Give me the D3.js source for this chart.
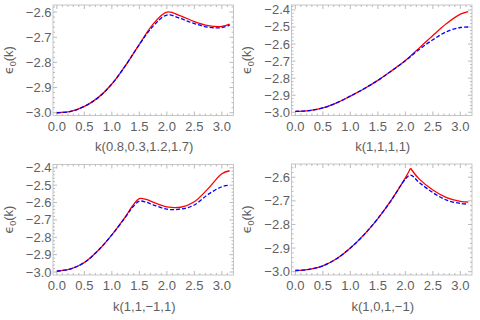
<!DOCTYPE html>
<html><head><meta charset="utf-8">
<script src="https://cdn.jsdelivr.net/npm/d3@7"></script>
<style>
html,body{margin:0;padding:0;background:#fff;}
svg{display:block;font-family:"Liberation Sans","DejaVu Sans",sans-serif;}
</style></head>
<body>
<svg id="chart" width="480" height="320"></svg>
<script>
// ---- data ----
const PI = Math.PI;
const xTicks = [0, 0.5, 1.0, 1.5, 2.0, 2.5, 3.0];
const xTickLabels = ["0.0","0.5","1.0","1.5","2.0","2.5","3.0"];

const p1Title = "k(0.8,0.3,1.2,1.7)";
const p1K    = [0, 0.25, 0.5, 0.75, 1.0, 1.25, 1.5, 1.75, 2.0, 2.25, 2.5, 2.75, 3.0, PI];
const p1Red  = [-3.000, -2.995, -2.975, -2.940, -2.886, -2.812, -2.728, -2.648, -2.600, -2.615, -2.638, -2.654, -2.657, -2.648];
const p1Blue = [-3.000, -2.995, -2.975, -2.940, -2.886, -2.812, -2.729, -2.656, -2.612, -2.626, -2.646, -2.660, -2.662, -2.652];
const p1YTicks = [-3.0, -2.9, -2.8, -2.7, -2.6];

const p2Title = "k(1,1,1,1)";
const p2K    = [0, 0.25, 0.5, 0.75, 1.0, 1.25, 1.5, 1.75, 2.0, 2.25, 2.5, 2.75, 3.0, PI];
const p2Red  = [-2.995, -2.990, -2.975, -2.945, -2.905, -2.862, -2.813, -2.757, -2.697, -2.624, -2.550, -2.480, -2.425, -2.410];
const p2Blue = [-2.995, -2.990, -2.975, -2.945, -2.905, -2.862, -2.813, -2.757, -2.698, -2.632, -2.575, -2.527, -2.503, -2.500];
const p2YTicks = [-3.0, -2.9, -2.8, -2.7, -2.6, -2.5, -2.4];

const p3Title = "k(1,1,\u22121,1)";
const p3K    = [0, 0.25, 0.5, 0.75, 1.0, 1.25, 1.375, 1.5, 1.625, 1.75, 2.0, 2.25, 2.5, 2.75, 3.0, PI];
const p3Red  = [-2.995, -2.982, -2.945, -2.876, -2.786, -2.680, -2.620, -2.578, -2.582, -2.598, -2.625, -2.627, -2.595, -2.520, -2.434, -2.417];
const p3Blue = [-2.995, -2.982, -2.945, -2.876, -2.786, -2.683, -2.628, -2.592, -2.598, -2.613, -2.638, -2.638, -2.614, -2.553, -2.509, -2.500];
const p3YTicks = [-3.0, -2.9, -2.8, -2.7, -2.6, -2.5, -2.4];

const p4Title = "k(1,0,1,\u22121)";
const p4K    = [0, 0.25, 0.5, 0.75, 1.0, 1.25, 1.5, 1.75, 2.0, 2.094, 2.25, 2.5, 2.75, 3.0, PI];
const p4Red  = [-2.995, -2.990, -2.975, -2.945, -2.900, -2.843, -2.775, -2.695, -2.603, -2.562, -2.607, -2.654, -2.686, -2.702, -2.705];
const p4Blue = [-2.995, -2.990, -2.975, -2.945, -2.900, -2.843, -2.775, -2.696, -2.608, -2.591, -2.622, -2.665, -2.697, -2.711, -2.714];
const p4CuspIndex = 9;   // red curve has a kink here
const p4YTicks = [-3.0, -2.9, -2.8, -2.7, -2.6];

// ---- layout ----
const panels = [
  {k:p1K, red:p1Red, blue:p1Blue, yTicks:p1YTicks, title:p1Title, x0:53,   x1:233.5, y0:5,   y1:115.5, yDom:[-3.011,-2.572], cusp:null},
  {k:p2K, red:p2Red, blue:p2Blue, yTicks:p2YTicks, title:p2Title, x0:291.5,x1:472,   y0:5,   y1:115.5, yDom:[-3.019,-2.371], cusp:null},
  {k:p3K, red:p3Red, blue:p3Blue, yTicks:p3YTicks, title:p3Title, x0:53,   x1:233.5, y0:164.5, y1:275, yDom:[-3.017,-2.381], cusp:null},
  {k:p4K, red:p4Red, blue:p4Blue, yTicks:p4YTicks, title:p4Title, x0:291.5,x1:472,   y0:164, y1:275,   yDom:[-3.014,-2.544], cusp:p4CuspIndex}
];

const svg = d3.select("#chart");
const textCol = "#606060", frameCol = "#b8b8b8", tickCol = "#a8a8a8";

panels.forEach(p => {
  const x = d3.scaleLinear().domain([-0.07, PI + 0.07]).range([p.x0, p.x1]);
  const y = d3.scaleLinear().domain(p.yDom).range([p.y1, p.y0]);
  const g = svg.append("g");

  // minor ticks
  const xMinor = d3.range(0, 3.15, 0.1).filter(v => Math.abs(v*2 - Math.round(v*2)) > 1e-6);
  const yMinor = d3.range(Math.ceil(p.yDom[0]*50)/50, p.yDom[1], 0.02).filter(v => Math.abs(v*10 - Math.round(v*10)) > 1e-6);

  const tk = g.append("g").attr("stroke", tickCol).attr("stroke-width", 0.8);
  xTicks.forEach(v => {
    tk.append("line").attr("x1", x(v)).attr("x2", x(v)).attr("y1", p.y1).attr("y2", p.y1 - 4);
    tk.append("line").attr("x1", x(v)).attr("x2", x(v)).attr("y1", p.y0).attr("y2", p.y0 + 4);
  });
  xMinor.forEach(v => {
    tk.append("line").attr("x1", x(v)).attr("x2", x(v)).attr("y1", p.y1).attr("y2", p.y1 - 2);
    tk.append("line").attr("x1", x(v)).attr("x2", x(v)).attr("y1", p.y0).attr("y2", p.y0 + 2);
  });
  p.yTicks.forEach(v => {
    tk.append("line").attr("y1", y(v)).attr("y2", y(v)).attr("x1", p.x0).attr("x2", p.x0 + 4);
    tk.append("line").attr("y1", y(v)).attr("y2", y(v)).attr("x1", p.x1).attr("x2", p.x1 - 4);
  });
  yMinor.forEach(v => {
    tk.append("line").attr("y1", y(v)).attr("y2", y(v)).attr("x1", p.x0).attr("x2", p.x0 + 2);
    tk.append("line").attr("y1", y(v)).attr("y2", y(v)).attr("x1", p.x1).attr("x2", p.x1 - 2);
  });

  // frame
  g.append("rect").attr("x", p.x0).attr("y", p.y0)
    .attr("width", p.x1 - p.x0).attr("height", p.y1 - p.y0)
    .attr("fill", "none").attr("stroke", frameCol).attr("stroke-width", 0.8);

  // tick labels
  g.selectAll(null).data(xTicks).enter().append("text")
    .attr("x", d => x(d)).attr("y", p.y1 + 15)
    .attr("text-anchor", "middle").attr("font-size", 13).attr("fill", textCol)
    .text((d,i) => xTickLabels[i]);
  g.selectAll(null).data(p.yTicks).enter().append("text")
    .attr("x", p.x0 - 1.5).attr("y", d => y(d) + 4.5)
    .attr("text-anchor", "end").attr("font-size", 13).attr("fill", textCol)
    .text(d => d3.format(".1f")(d).replace("-", "\u2212"));

  // axis labels
  g.append("text").attr("x", (p.x0 + p.x1) / 2 + 1).attr("y", p.y1 + 35.5)
    .attr("text-anchor", "middle").attr("font-size", 13).attr("fill", textCol)
    .text(p.title);
  const yl = g.append("text")
    .attr("transform", `translate(${p.x0 - 40.5},${(p.y0 + p.y1) / 2}) rotate(-90)`)
    .attr("text-anchor", "middle").attr("font-size", 13).attr("fill", textCol);
  yl.append("tspan").attr("font-family", "DejaVu Sans").text("\u03F5");
  yl.append("tspan").attr("font-size", 9).attr("dy", 3).text("0");
  yl.append("tspan").attr("dy", -3).text("(k)");

  // curves
  const line = d3.line().x(d => x(d[0])).y(d => y(d[1])).curve(d3.curveCatmullRom.alpha(0.5));
  const clipId = "clip" + Math.round(p.x0) + "_" + Math.round(p.y0);
  svg.append("clipPath").attr("id", clipId).append("rect")
    .attr("x", p.x0).attr("y", p.y0).attr("width", p.x1 - p.x0).attr("height", p.y1 - p.y0);
  const cg = g.append("g").attr("clip-path", `url(#${clipId})`);

  const redPts = p.k.map((k, i) => [k, p.red[i]]);
  const bluePts = p.k.map((k, i) => [k, p.blue[i]]);
  const redSegs = p.cusp === null ? [redPts] : [redPts.slice(0, p.cusp + 1), redPts.slice(p.cusp)];
  redSegs.forEach(seg => {
    cg.append("path").attr("d", line(seg)).attr("fill", "none")
      .attr("stroke", "#ff0000").attr("stroke-width", 1.3);
  });
  cg.append("path").attr("d", line(bluePts)).attr("fill", "none")
    .attr("stroke", "#0000ff").attr("stroke-width", 1.3).attr("stroke-dasharray", "4,2");
});
</script>
</body></html>
